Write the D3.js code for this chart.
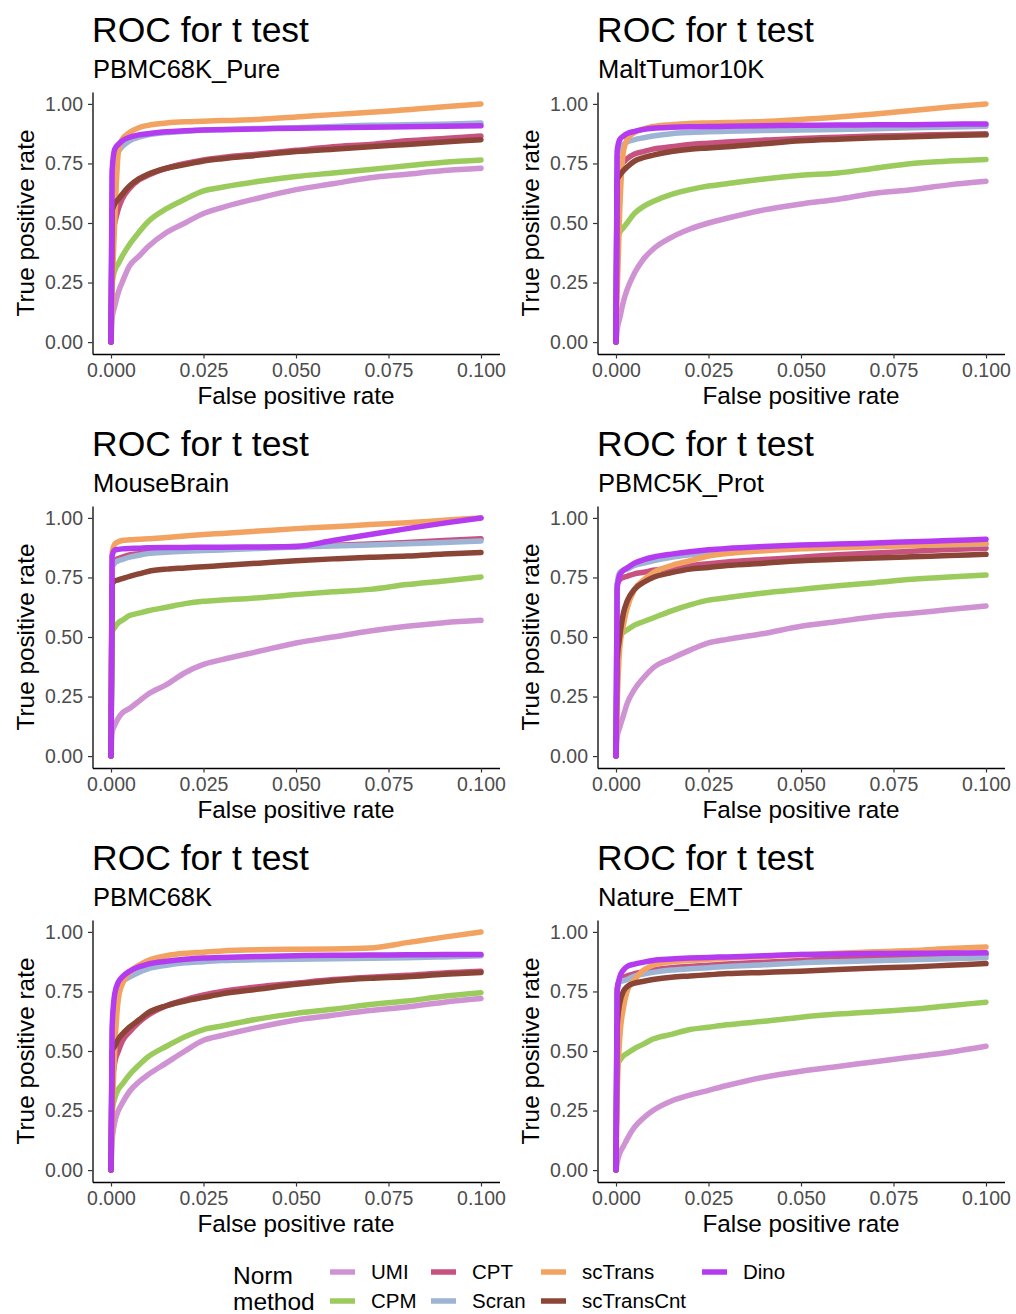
<!DOCTYPE html>
<html>
<head>
<meta charset="utf-8">
<script src="https://cdn.jsdelivr.net/npm/d3@7"></script>
<style>
  html, body { margin: 0; padding: 0; background: #ffffff; }
  svg { display: block; font-family: "Liberation Sans", Arial, Helvetica, sans-serif; }
</style>
</head>
<body>
<svg id="chart" width="1016" height="1314"></svg>
<script>
// Normalisation methods, in legend / drawing order
const methods = ["UMI", "CPM", "CPT", "Scran", "scTrans", "scTransCnt", "Dino"];
const methodColors = ["#CF93D3", "#9BCB5C", "#C8527F", "#9DB4D4", "#F2A361", "#8B4537", "#B53BF0"];

// Shared false-positive-rate grid for every curve
const fpr = [0, 0.0003, 0.001, 0.002, 0.003, 0.005, 0.0075, 0.01, 0.015, 0.02, 0.025, 0.03, 0.04, 0.05, 0.06, 0.07, 0.08, 0.09, 0.1];

// Axis tick values
const xTicks = [0, 0.025, 0.05, 0.075, 0.1];
const yTicks = [0, 0.25, 0.5, 0.75, 1];

// Dataset names, one panel each
const datasets = ["PBMC68K_Pure", "MaltTumor10K", "MouseBrain", "PBMC5K_Prot", "PBMC68K", "Nature_EMT"];

// True positive rates per dataset, per method (same order as `methods`)
const tprPBMC68KPure = [
  [0, 0.10, 0.15, 0.21, 0.25, 0.32, 0.36, 0.40, 0.46, 0.50, 0.54, 0.565, 0.605, 0.64, 0.665, 0.69, 0.705, 0.72, 0.73],
  [0, 0.25, 0.30, 0.33, 0.36, 0.41, 0.46, 0.505, 0.56, 0.60, 0.635, 0.65, 0.675, 0.695, 0.71, 0.725, 0.74, 0.755, 0.765],
  [0, 0.45, 0.50, 0.56, 0.60, 0.645, 0.68, 0.70, 0.73, 0.75, 0.765, 0.775, 0.79, 0.805, 0.82, 0.83, 0.845, 0.855, 0.865],
  [0, 0.70, 0.78, 0.80, 0.82, 0.845, 0.86, 0.87, 0.88, 0.885, 0.89, 0.893, 0.897, 0.90, 0.905, 0.91, 0.912, 0.915, 0.92],
  [0, 0.20, 0.50, 0.80, 0.85, 0.88, 0.90, 0.91, 0.92, 0.925, 0.927, 0.93, 0.935, 0.945, 0.955, 0.965, 0.975, 0.988, 1.0],
  [0, 0.55, 0.58, 0.60, 0.62, 0.655, 0.685, 0.705, 0.73, 0.745, 0.76, 0.77, 0.785, 0.80, 0.81, 0.82, 0.83, 0.84, 0.85],
  [0, 0.72, 0.81, 0.83, 0.845, 0.86, 0.87, 0.875, 0.883, 0.887, 0.89, 0.892, 0.895, 0.898, 0.90, 0.902, 0.904, 0.906, 0.908]
];
const tprMaltTumor10K = [
  [0, 0.05, 0.10, 0.17, 0.22, 0.29, 0.35, 0.39, 0.44, 0.475, 0.50, 0.52, 0.555, 0.58, 0.60, 0.625, 0.64, 0.66, 0.675],
  [0, 0.43, 0.46, 0.48, 0.50, 0.54, 0.57, 0.59, 0.62, 0.64, 0.655, 0.665, 0.685, 0.70, 0.71, 0.73, 0.75, 0.76, 0.767],
  [0, 0.72, 0.74, 0.755, 0.77, 0.79, 0.80, 0.81, 0.82, 0.83, 0.835, 0.84, 0.848, 0.855, 0.86, 0.865, 0.868, 0.872, 0.875],
  [0, 0.78, 0.81, 0.83, 0.84, 0.85, 0.858, 0.865, 0.875, 0.88, 0.883, 0.885, 0.888, 0.89, 0.893, 0.896, 0.90, 0.903, 0.906],
  [0, 0.20, 0.55, 0.80, 0.85, 0.88, 0.895, 0.905, 0.913, 0.918, 0.92, 0.922, 0.926, 0.935, 0.945, 0.958, 0.972, 0.987, 1.0],
  [0, 0.68, 0.70, 0.72, 0.735, 0.76, 0.775, 0.785, 0.80, 0.81, 0.815, 0.82, 0.833, 0.845, 0.852, 0.858, 0.862, 0.867, 0.87],
  [0, 0.80, 0.85, 0.865, 0.875, 0.885, 0.893, 0.898, 0.902, 0.904, 0.905, 0.906, 0.908, 0.91, 0.911, 0.912, 0.913, 0.915, 0.916]
];
const tprMouseBrain = [
  [0, 0.10, 0.13, 0.16, 0.18, 0.20, 0.23, 0.26, 0.30, 0.35, 0.385, 0.405, 0.44, 0.475, 0.50, 0.525, 0.545, 0.56, 0.57],
  [0, 0.52, 0.54, 0.56, 0.57, 0.59, 0.60, 0.61, 0.625, 0.64, 0.65, 0.655, 0.665, 0.678, 0.69, 0.70, 0.72, 0.735, 0.752],
  [0, 0.80, 0.82, 0.83, 0.835, 0.845, 0.85, 0.855, 0.86, 0.865, 0.868, 0.87, 0.875, 0.88, 0.885, 0.89, 0.897, 0.905, 0.912],
  [0, 0.79, 0.81, 0.82, 0.825, 0.835, 0.843, 0.85, 0.856, 0.86, 0.863, 0.865, 0.872, 0.878, 0.882, 0.886, 0.891, 0.897, 0.903],
  [0, 0.85, 0.89, 0.90, 0.905, 0.908, 0.91, 0.912, 0.918, 0.924, 0.93, 0.935, 0.945, 0.955, 0.963, 0.972, 0.98, 0.99, 1.0],
  [0, 0.72, 0.735, 0.74, 0.745, 0.755, 0.765, 0.775, 0.785, 0.79, 0.795, 0.80, 0.81, 0.82, 0.828, 0.835, 0.84, 0.848, 0.855],
  [0, 0.84, 0.865, 0.868, 0.87, 0.872, 0.873, 0.875, 0.876, 0.876, 0.877, 0.877, 0.878, 0.88, 0.905, 0.93, 0.955, 0.978, 1.0]
];
const tprPBMC5KProt = [
  [0, 0.08, 0.12, 0.17, 0.22, 0.28, 0.33, 0.37, 0.41, 0.445, 0.475, 0.49, 0.515, 0.545, 0.565, 0.585, 0.60, 0.615, 0.63],
  [0, 0.45, 0.50, 0.52, 0.53, 0.55, 0.565, 0.58, 0.61, 0.635, 0.655, 0.665, 0.685, 0.70, 0.715, 0.728, 0.742, 0.752, 0.76],
  [0, 0.72, 0.74, 0.75, 0.755, 0.765, 0.772, 0.78, 0.79, 0.80, 0.808, 0.815, 0.825, 0.835, 0.845, 0.853, 0.86, 0.867, 0.873],
  [0, 0.72, 0.77, 0.78, 0.785, 0.80, 0.81, 0.82, 0.835, 0.845, 0.853, 0.86, 0.867, 0.873, 0.877, 0.88, 0.884, 0.887, 0.89],
  [0, 0.20, 0.45, 0.55, 0.62, 0.70, 0.74, 0.77, 0.80, 0.82, 0.84, 0.85, 0.862, 0.87, 0.875, 0.88, 0.884, 0.888, 0.893],
  [0, 0.40, 0.50, 0.60, 0.65, 0.70, 0.73, 0.75, 0.77, 0.785, 0.792, 0.80, 0.81, 0.82, 0.826, 0.832, 0.837, 0.842, 0.847],
  [0, 0.70, 0.76, 0.78, 0.79, 0.81, 0.825, 0.835, 0.848, 0.858, 0.866, 0.872, 0.88, 0.886, 0.89, 0.895, 0.90, 0.905, 0.91]
];
const tprPBMC68K = [
  [0, 0.12, 0.20, 0.25, 0.28, 0.33, 0.37, 0.40, 0.45, 0.50, 0.545, 0.565, 0.60, 0.63, 0.65, 0.67, 0.685, 0.705, 0.72],
  [0, 0.25, 0.30, 0.34, 0.36, 0.40, 0.44, 0.475, 0.52, 0.56, 0.59, 0.605, 0.635, 0.658, 0.675, 0.695, 0.71, 0.73, 0.745],
  [0, 0.35, 0.45, 0.50, 0.54, 0.58, 0.62, 0.65, 0.69, 0.715, 0.735, 0.75, 0.77, 0.785, 0.80, 0.81, 0.818, 0.828, 0.835],
  [0, 0.55, 0.72, 0.77, 0.79, 0.81, 0.83, 0.845, 0.86, 0.87, 0.875, 0.88, 0.883, 0.885, 0.887, 0.889, 0.891, 0.895, 0.90],
  [0, 0.20, 0.50, 0.72, 0.78, 0.83, 0.86, 0.88, 0.90, 0.91, 0.915, 0.92, 0.925, 0.927, 0.928, 0.932, 0.955, 0.978, 1.0],
  [0, 0.50, 0.52, 0.55, 0.57, 0.60, 0.63, 0.66, 0.69, 0.71, 0.725, 0.74, 0.76, 0.78, 0.795, 0.805, 0.812, 0.822, 0.83],
  [0, 0.60, 0.74, 0.79, 0.81, 0.835, 0.853, 0.865, 0.877, 0.885, 0.89, 0.893, 0.897, 0.90, 0.902, 0.903, 0.904, 0.905, 0.905]
];
const tprNatureEMT = [
  [0, 0.03, 0.07, 0.10, 0.13, 0.18, 0.22, 0.25, 0.29, 0.315, 0.335, 0.355, 0.39, 0.415, 0.435, 0.455, 0.475, 0.495, 0.52],
  [0, 0.45, 0.46, 0.48, 0.49, 0.51, 0.53, 0.55, 0.57, 0.59, 0.60, 0.61, 0.625, 0.642, 0.655, 0.665, 0.675, 0.69, 0.705],
  [0, 0.76, 0.80, 0.81, 0.815, 0.825, 0.833, 0.84, 0.85, 0.855, 0.86, 0.865, 0.873, 0.88, 0.887, 0.893, 0.898, 0.902, 0.905],
  [0, 0.75, 0.79, 0.795, 0.80, 0.815, 0.823, 0.83, 0.84, 0.845, 0.85, 0.855, 0.862, 0.87, 0.875, 0.879, 0.883, 0.887, 0.892],
  [0, 0.30, 0.55, 0.68, 0.75, 0.80, 0.84, 0.86, 0.875, 0.88, 0.885, 0.89, 0.897, 0.905, 0.91, 0.917, 0.922, 0.93, 0.937],
  [0, 0.60, 0.70, 0.75, 0.77, 0.785, 0.793, 0.80, 0.81, 0.815, 0.82, 0.825, 0.83, 0.835, 0.842, 0.848, 0.853, 0.86, 0.867],
  [0, 0.75, 0.81, 0.84, 0.855, 0.865, 0.873, 0.88, 0.886, 0.89, 0.893, 0.895, 0.90, 0.905, 0.907, 0.909, 0.91, 0.911, 0.912]
];

const panelCurves = [tprPBMC68KPure, tprMaltTumor10K, tprMouseBrain, tprPBMC5KProt, tprPBMC68K, tprNatureEMT];

const svg = d3.select("#chart");
const color = d3.scaleOrdinal().domain(methods).range(methodColors);

// Panel geometry (relative to each panel's origin)
const colStep = 505, rowStep = 414;
const plotLeft = 92.5, plotRight = 499.5, plotTop = 92, plotBottom = 354;

// 5% expansion around [0, 0.1] and [0, 1]
const x = d3.scaleLinear().domain([-0.005, 0.105]).range([plotLeft, plotRight]);
const y = d3.scaleLinear().domain([-0.05, 1.05]).range([plotBottom, plotTop]);

const line = d3.line()
  .x(d => x(d[0]))
  .y(d => y(d[1]))
  .curve(d3.curveMonotoneX);

datasets.forEach((name, i) => {
  const col = i % 2, row = Math.floor(i / 2);
  const g = svg.append("g").attr("transform", `translate(${col * colStep},${row * rowStep})`);

  // Titles
  g.append("text").attr("x", 92).attr("y", 42)
    .attr("font-size", 35.5).attr("fill", "#000").text("ROC for t test");
  g.append("text").attr("x", 93).attr("y", 78)
    .attr("font-size", 25.5).attr("fill", "#000").text(name);

  // Curves
  const curves = panelCurves[i];
  methods.forEach((m, k) => {
    const pts = fpr.map((f, j) => [f, curves[k][j]]);
    g.append("path")
      .datum(pts)
      .attr("d", line)
      .attr("fill", "none")
      .attr("stroke", color(m))
      .attr("stroke-width", 5.5)
      .attr("stroke-linejoin", "round")
      .attr("stroke-linecap", "round");
  });

  // Axes
  const xAxis = g.append("g").attr("transform", `translate(0,${plotBottom})`)
    .call(d3.axisBottom(x).tickValues(xTicks).tickFormat(d3.format(".3f")).tickSize(4.5).tickSizeOuter(0).tickPadding(4.5));
  const yAxis = g.append("g").attr("transform", `translate(${plotLeft},0)`)
    .call(d3.axisLeft(y).tickValues(yTicks).tickFormat(d3.format(".2f")).tickSize(4.5).tickSizeOuter(0).tickPadding(5));
  [xAxis, yAxis].forEach(a => {
    a.select(".domain").attr("stroke", "#000").attr("stroke-width", 1.3);
    a.selectAll(".tick line").attr("stroke", "#333").attr("stroke-width", 1.2);
    a.selectAll(".tick text").attr("fill", "#4D4D4D").attr("font-size", 19.5)
      .attr("font-family", "Liberation Sans, Arial, sans-serif");
  });

  // Axis titles
  g.append("text").attr("x", (plotLeft + plotRight) / 2).attr("y", 404)
    .attr("text-anchor", "middle").attr("font-size", 24.3).attr("fill", "#000")
    .text("False positive rate");
  g.append("text")
    .attr("transform", `translate(34,${(y(0) + y(1)) / 2}) rotate(-90)`)
    .attr("text-anchor", "middle").attr("font-size", 24.3).attr("fill", "#000")
    .text("True positive rate");
});

// Legend: two rows, filled column by column
const legend = svg.append("g");
legend.append("text").attr("x", 233).attr("y", 1284).attr("font-size", 24.5).attr("fill", "#000").text("Norm");
legend.append("text").attr("x", 233).attr("y", 1310).attr("font-size", 24.5).attr("fill", "#000").text("method");
const legendColX = [330, 431, 541, 702];
const legendRowY = [1272, 1301];
methods.forEach((m, k) => {
  const cx = legendColX[Math.floor(k / 2)];
  const cy = legendRowY[k % 2];
  legend.append("line")
    .attr("x1", cx).attr("x2", cx + 25).attr("y1", cy).attr("y2", cy)
    .attr("stroke", color(m)).attr("stroke-width", 5.5);
  legend.append("text").attr("x", cx + 41).attr("y", cy).attr("dy", "0.35em")
    .attr("font-size", 20.5).attr("fill", "#000").text(m);
});
</script>
</body>
</html>
